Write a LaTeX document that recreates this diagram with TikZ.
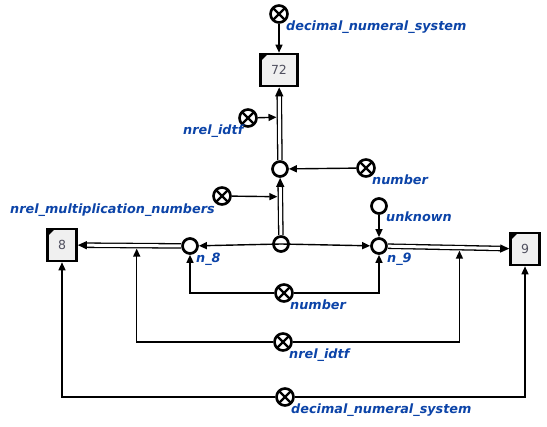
\documentclass[tikz,border=0pt]{standalone}
\usepackage{fontspec}
\setsansfont{DejaVu Sans}
\usetikzlibrary{arrows.meta}
\definecolor{idtfblue}{RGB}{12,68,168}
\definecolor{boxgray}{RGB}{240,240,240}
\definecolor{textgray}{RGB}{80,80,95}
\newcommand{\corner}[1]{\fill ([shift={(1.5pt,-1.5pt)}]#1.north west) -- ++(7pt,0pt) -- ++(-7pt,-7pt) -- cycle;}
\tikzset{
  cls/.style={circle, draw=black, fill=white, line width=2.6pt, minimum size=17pt, inner sep=0pt,
    path picture={\draw[line width=2.2pt] (path picture bounding box.center) +(-6pt,-6pt) -- +(6pt,6pt) +(-6pt,6pt) -- +(6pt,-6pt);}},
  elem/.style={circle, draw=black, fill=white, line width=2.7pt, minimum size=15pt, inner sep=0pt},
  lnk/.style={draw=black, fill=boxgray, line width=2.6pt, minimum height=32pt, minimum width=29pt,
    font=\sffamily\fontsize{12.5}{14}\selectfont, text=textgray},
  edge/.style={line width=1.4pt, -{Triangle[length=8pt,width=7pt]}},
  pair/.style={double, double distance=3pt, line width=1.3pt, -{Triangle[length=9pt,width=8pt]}},
  lbl/.style={font=\sffamily\bfseries\itshape\fontsize{12.8}{15}\selectfont, text=idtfblue, anchor=base west, inner sep=0pt}
}
\begin{document}
\begin{tikzpicture}[x=1pt,y=-1pt]
  \useasboundingbox (0,0) rectangle (547,427);
  % nodes
  \node[cls] (dnsT) at (279,14) {};
  \node[lnk, minimum width=37pt] (n72) at (279,70) {72};
  \node[elem] (tup) at (280,169) {};
  \node[cls] (idtfT) at (248,118) {};
  \node[cls] (numT) at (366,168) {};
  \node[cls] (mulT) at (222,196) {};
  \node[circle, draw=black, line width=2.7pt, minimum size=15pt, inner sep=0pt] (ctr) at (281,244) {};
  \node[elem] (n8) at (190,246) {};
  \node[elem] (n9) at (379,246) {};
  \node[elem] (unk) at (379,206) {};
  \node[lnk] (b8) at (62,245) {8};
  \node[lnk] (b9) at (525,249) {9};
  \node[cls] (numB) at (284,293) {};
  \node[cls] (idtfB) at (283,342) {};
  \node[cls] (dnsB) at (285,397) {};
  \corner{n72} \corner{b8} \corner{b9}
  % labels
  \node[lbl] (lDnsT) at (286,31) {decimal\_numeral\_system};
  \node[lbl] (lIdtfT) at (183,135) {nrel\_idtf};
  \node[lbl] (lNumT) at (372,185) {number};
  \node[lbl] (lMulT) at (10,214) {nrel\_multiplication\_numbers};
  \node[lbl] (lUnk) at (386,222) {unknown};
  \node[lbl] (lN8) at (196,263) {n\_8};
  \node[lbl] (lN9) at (387,263) {n\_9};
  \node[lbl] (lNumB) at (290,310) {number};
  \node[lbl] (lIdtfB) at (289,359) {nrel\_idtf};
  \node[lbl] (lDnsB) at (291,414) {decimal\_numeral\_system};
  % connectors
  \draw[edge] (dnsT) -- (n72);
  \draw[pair] (tup) -- coordinate[pos=0.59] (m1) (n72);
  \draw[edge, shorten >=3pt] (idtfT) -- (m1);
  \draw[edge] (numT) -- (tup);
  \draw[pair] (ctr) -- coordinate[pos=0.67] (m2) (tup);
  \draw[edge, shorten >=3pt] (mulT) -- (m2);
  \draw[edge] (ctr.center) -- (n8);
  \draw[edge] (ctr.center) -- (n9);
  \draw[pair] (n8) -- coordinate[pos=0.43] (m3) (b8);
  \draw[pair] (n9) -- coordinate[pos=0.59] (m4) (b9);
  \draw[edge] (unk) -- (n9);
  \draw[edge] (numB) -| (n8);
  \draw[edge] (numB) -| (n9);
  \draw[edge, shorten >=3pt] (idtfB) -| (m3);
  \draw[edge, shorten >=3pt] (idtfB) -| (m4);
  \draw[edge] (dnsB) -| (b8);
  \draw[edge] (dnsB) -| (b9);
\end{tikzpicture}
\end{document}
